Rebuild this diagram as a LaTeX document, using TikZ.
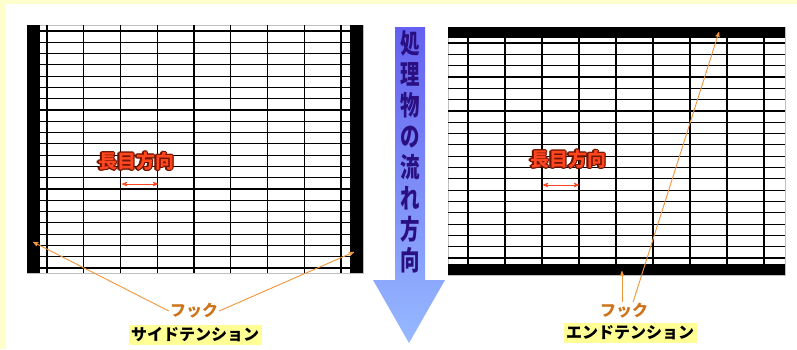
\documentclass[tikz,border=0pt]{standalone}
\usepackage{fontspec}
\newfontfamily\jpfont{Noto Sans CJK JP}
\usepackage{contour}
\contourlength{1.1pt}
\contournumber{10}
\usetikzlibrary{arrows}
\definecolor{pagebg}{RGB}{255,255,204}
\definecolor{hookline}{RGB}{240,150,60}
\definecolor{hookword}{RGB}{205,115,25}
\definecolor{dirred}{RGB}{255,70,30}
\definecolor{dirdark}{RGB}{110,20,0}
\definecolor{tagyellow}{RGB}{255,255,150}
\definecolor{flowtop}{RGB}{100,96,240}
\definecolor{flowbot}{RGB}{150,185,255}
\definecolor{flowink}{RGB}{42,15,130}
\tikzstyle{wire} = [black, line width=1.2pt]
\tikzstyle{frame} = [gray!50, line width=0.6pt]
\tikzstyle{hooktext} = [text=hookword, font=\jpfont\bfseries\fontsize{16}{16}\selectfont, inner sep=1pt]
\tikzstyle{hookarrow} = [->, hookline, line width=0.9pt]
\tikzstyle{tensionbox} = [fill=tagyellow, font=\jpfont\bfseries\fontsize{16}{16}\selectfont, inner sep=2.5pt]
\tikzstyle{dirtext} = [font=\jpfont\bfseries\fontsize{19}{19}\selectfont, inner sep=0pt]
\tikzstyle{dirarrow} = [<->, dirred, line width=0.8pt]
\newcommand{\dirword}{\contour{dirdark}{\textcolor{dirred}{長目方向}}}

\begin{document}
\begin{tikzpicture}[x=1pt, y=-1pt, >=stealth']
  \fill[pagebg] (0,0) rectangle (797,349);
  \fill[white] (6,4) rectangle (797,349);
  \useasboundingbox (0,0) rectangle (797,349);

  % side tension
  \draw[frame] (27,25) rectangle (363,273);
  \foreach \k in {0,...,21}
    \draw[wire] (40,{31+11.286*\k}) -- (350,{31+11.286*\k});
  \foreach \k in {0,...,8}
    \draw[wire] ({47+36.75*\k},25) -- ({47+36.75*\k},273);
  \fill (27,25) rectangle (40,273);
  \fill (350,25) rectangle (363,273);

  \node[dirtext] (dirL) at (136,162) {\dirword};
  \coordinate (dirLa) at (122,184);
  \coordinate (dirLb) at (158,184);
  \draw[dirarrow] (dirLa) -- (dirLb);

  \node[hooktext] (hookL) at (194,311) {フック};
  \coordinate (clipL) at (33,242);
  \coordinate (clipR) at (354,252);
  \draw[hookarrow] (hookL.west) -- (clipL);
  \draw[hookarrow] (hookL.east) -- (clipR);
  \node[tensionbox] (sideT) at (195,335) {サイドテンション};

  % flow direction
  \shade[top color=flowtop, bottom color=flowbot]
    (395,27) -- (425,27) -- (425,280) -- (445,280) -- (409,343)
    -- (373,280) -- (395,280) -- cycle;
  \node[text=flowink, align=center, xscale=0.72, inner sep=0pt,
        font=\jpfont\bfseries\fontsize{27}{31}\selectfont]
    (flow) at (410,152) {処\\理\\物\\の\\流\\れ\\方\\向};

  % end tension
  \draw[frame] (448,27) rectangle (785,275);
  \foreach \k in {0,...,19}
    \draw[wire] (448,{43+11.32*\k}) -- (785,{43+11.32*\k});
  \foreach \k in {0,...,8}
    \draw[wire] ({468+37*\k},27) -- ({468+37*\k},275);
  \fill (448,27) rectangle (785,38);
  \fill (448,264) rectangle (785,275);

  \node[dirtext] (dirR) at (568,160) {\dirword};
  \coordinate (dirRa) at (543,185);
  \coordinate (dirRb) at (579,185);
  \draw[dirarrow] (dirRa) -- (dirRb);

  \node[hooktext] (hookR) at (624,311) {フック};
  \coordinate (barB) at (622,271);
  \coordinate (barT) at (719,32);
  \draw[hookarrow] ([xshift=-2pt]hookR.north) -- (barB);
  \draw[hookarrow] ([xshift=9pt]hookR.north) -- (barT);
  \node[tensionbox] (endT) at (630,333) {エンドテンション};
\end{tikzpicture}
\end{document}
